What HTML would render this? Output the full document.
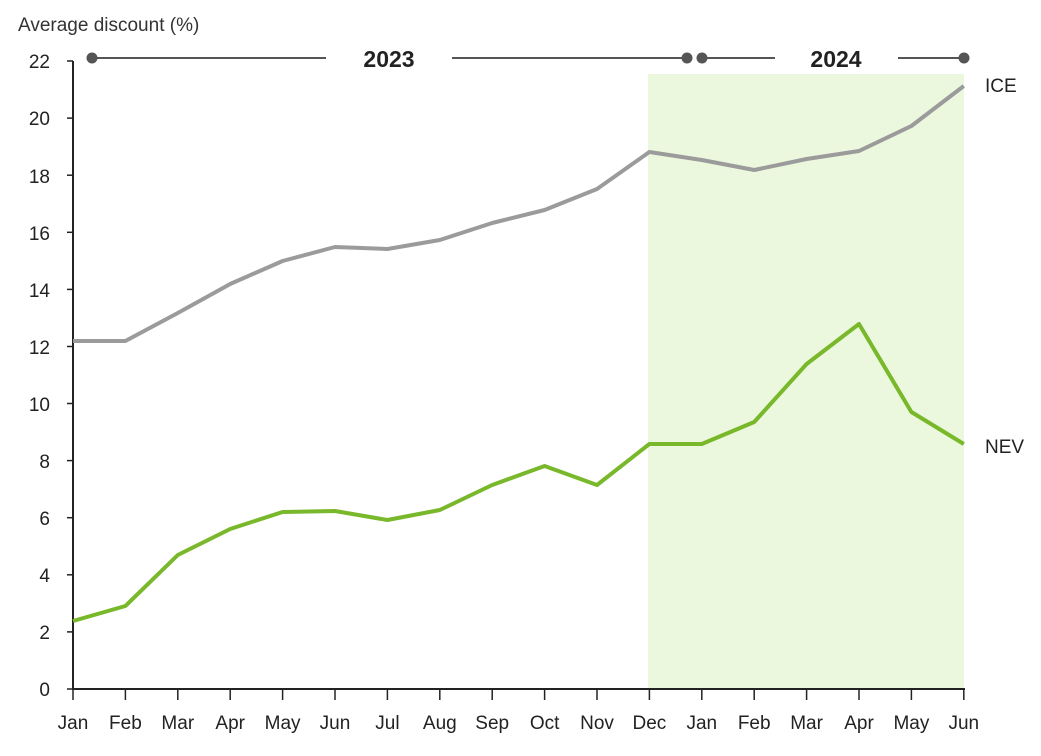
<!DOCTYPE html>
<html><head><meta charset="utf-8"><style>
html,body{margin:0;padding:0;background:#fff;}
svg{display:block;font-family:"Liberation Sans",sans-serif;}
</style></head><body>
<svg width="1041" height="756" viewBox="0 0 1041 756">
<rect x="648" y="74" width="316" height="615" fill="#ebf8dd"/>
<text x="18" y="31" font-size="19" fill="#333">Average discount (%)</text>
<!-- year bar -->
<g stroke="#555" stroke-width="2">
<line x1="92" y1="58" x2="326" y2="58"/>
<line x1="452" y1="58" x2="687" y2="58"/>
<line x1="702" y1="58" x2="775" y2="58"/>
<line x1="898" y1="58" x2="964" y2="58"/>
</g>
<g fill="#555">
<circle cx="92" cy="58" r="5.5"/><circle cx="687" cy="58" r="5.5"/>
<circle cx="702" cy="58" r="5.5"/><circle cx="964" cy="58" r="5.5"/>
</g>
<text x="389" y="67" font-size="23" font-weight="bold" text-anchor="middle" fill="#222">2023</text>
<text x="836" y="67" font-size="23" font-weight="bold" text-anchor="middle" fill="#222">2024</text>
<!-- axes -->
<g stroke="#222" stroke-width="2">
<line x1="73" y1="61" x2="73" y2="689"/>
<line x1="72" y1="689" x2="965" y2="689"/>
</g>
<g stroke="#222" stroke-width="1.5" id="yt">
<line x1="67" y1="689" x2="73" y2="689"/><line x1="67" y1="631.9" x2="73" y2="631.9"/>
<line x1="67" y1="574.8" x2="73" y2="574.8"/><line x1="67" y1="517.7" x2="73" y2="517.7"/>
<line x1="67" y1="460.6" x2="73" y2="460.6"/><line x1="67" y1="403.5" x2="73" y2="403.5"/>
<line x1="67" y1="346.5" x2="73" y2="346.5"/><line x1="67" y1="289.4" x2="73" y2="289.4"/>
<line x1="67" y1="232.3" x2="73" y2="232.3"/><line x1="67" y1="175.2" x2="73" y2="175.2"/>
<line x1="67" y1="118.1" x2="73" y2="118.1"/><line x1="67" y1="61" x2="73" y2="61"/>
</g>
<g font-size="19" fill="#222" text-anchor="end">
<text x="50" y="696">0</text><text x="50" y="639">2</text><text x="50" y="582">4</text>
<text x="50" y="525">6</text><text x="50" y="468">8</text><text x="50" y="411">10</text>
<text x="50" y="354">12</text><text x="50" y="297">14</text><text x="50" y="240">16</text>
<text x="50" y="183">18</text><text x="50" y="125">20</text><text x="50" y="68">22</text>
</g>
<g stroke="#222" stroke-width="1.5">
<line x1="73" y1="689" x2="73" y2="700"/><line x1="125.4" y1="689" x2="125.4" y2="700"/>
<line x1="177.8" y1="689" x2="177.8" y2="700"/><line x1="230.2" y1="689" x2="230.2" y2="700"/>
<line x1="282.6" y1="689" x2="282.6" y2="700"/><line x1="335" y1="689" x2="335" y2="700"/>
<line x1="387.4" y1="689" x2="387.4" y2="700"/><line x1="439.8" y1="689" x2="439.8" y2="700"/>
<line x1="492.2" y1="689" x2="492.2" y2="700"/><line x1="544.6" y1="689" x2="544.6" y2="700"/>
<line x1="597" y1="689" x2="597" y2="700"/><line x1="649.4" y1="689" x2="649.4" y2="700"/>
<line x1="701.8" y1="689" x2="701.8" y2="700"/><line x1="754.2" y1="689" x2="754.2" y2="700"/>
<line x1="806.6" y1="689" x2="806.6" y2="700"/><line x1="859" y1="689" x2="859" y2="700"/>
<line x1="911.4" y1="689" x2="911.4" y2="700"/><line x1="963.8" y1="689" x2="963.8" y2="700"/>
</g>
<g font-size="19" fill="#222" text-anchor="middle">
<text x="73" y="729">Jan</text><text x="125.4" y="729">Feb</text><text x="177.8" y="729">Mar</text>
<text x="230.2" y="729">Apr</text><text x="282.6" y="729">May</text><text x="335" y="729">Jun</text>
<text x="387.4" y="729">Jul</text><text x="439.8" y="729">Aug</text><text x="492.2" y="729">Sep</text>
<text x="544.6" y="729">Oct</text><text x="597" y="729">Nov</text><text x="649.4" y="729">Dec</text>
<text x="701.8" y="729">Jan</text><text x="754.2" y="729">Feb</text><text x="806.6" y="729">Mar</text>
<text x="859" y="729">Apr</text><text x="911.4" y="729">May</text><text x="963.8" y="729">Jun</text>
</g>
<polyline fill="none" stroke="#9b9b9b" stroke-width="4" stroke-linejoin="round"
points="73,341 125.4,341 177.8,313 230.2,284 282.6,261 335,247 387.4,249 439.8,240 492.2,223 544.6,210 597,189 649.4,152 701.8,160 754.2,170 806.6,159 859,151 911.4,126 963.8,86"/>
<polyline fill="none" stroke="#78b82a" stroke-width="4" stroke-linejoin="round"
points="73,621 125.4,606 177.8,555 230.2,529 282.6,512 335,511 387.4,520 439.8,510 492.2,485 544.6,466 597,485 649.4,444 701.8,444 754.2,422 806.6,364 859,324 911.4,412 963.8,444"/>
<text x="985" y="92" font-size="19" fill="#222">ICE</text>
<text x="985" y="453" font-size="19" fill="#222">NEV</text>
</svg>
</body></html>
